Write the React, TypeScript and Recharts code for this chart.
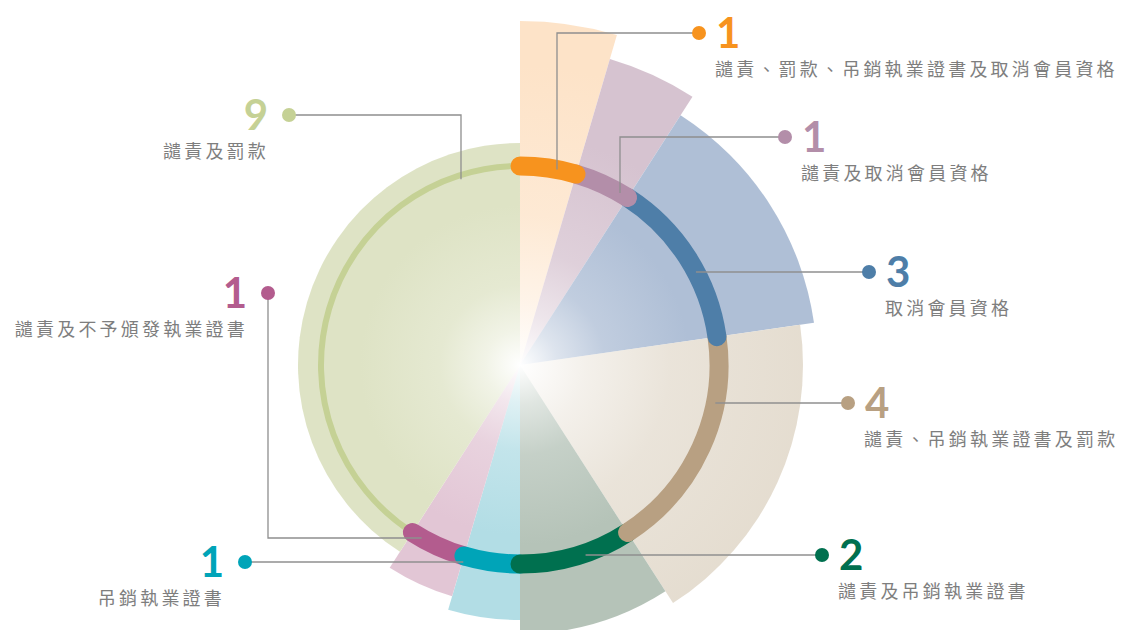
import React from 'react';
import { PieChart, Pie, Cell } from 'recharts';

// disciplinary outcomes, clockwise from 12 o'clock
const CATEGORIES = [
  '譴責、罰款、吊銷執業證書及取消會員資格',
  '譴責及取消會員資格',
  '取消會員資格',
  '譴責、吊銷執業證書及罰款',
  '譴責及吊銷執業證書',
  '吊銷執業證書',
  '譴責及不予頒發執業證書',
  '譴責及罰款',
];
const CASES = [1, 1, 3, 4, 2, 1, 1, 9];

// styling per category
const RING_COLORS = ['#F7931E', '#B38EA9', '#4E7EA8', '#B8A082', '#00704F', '#00A4B8', '#B35C8E', '#C5D195'];
const PETAL_COLORS = ['#FDE3C8', '#D6C3D0', '#AFBFD6', '#E4DCCF', '#B5C3B8', '#B2DDE5', '#E2C6D5', '#DEE3C5'];
const PETAL_REACH = [344, 319, 297, 283, 269, 255, 241, 222];
const PETAL_FADE = [300, 230, 170, 300, 180, 170, 170, 160];
const RING_WIDTH = [19, 19, 19, 19, 19, 19, 19, 6];

const CX = 520;
const CY = 365;
const RING_R = 199;

type Callout = { dot: [number, number]; route: 'h' | 'hv' | 'vh'; elbow?: number; hitR?: number };
const CALLOUTS: Callout[] = [
  { dot: [699, 33], route: 'hv', elbow: 557 },
  { dot: [785, 137], route: 'hv', elbow: 620 },
  { dot: [869, 272], route: 'h' },
  { dot: [848, 403], route: 'h' },
  { dot: [822, 555], route: 'h', hitR: 201 },
  { dot: [245, 562], route: 'h', hitR: 205 },
  { dot: [268, 293], route: 'vh', elbow: 538 },
  { dot: [289, 115], route: 'hv', elbow: 461, hitR: 195 },
];

const data = CATEGORIES.map((name, idx) => ({ name, value: CASES[idx], idx }));
// reversed + counter-clockwise: same layout, but the first slice paints last
const ringData = [...data].reverse();

const RAD = Math.PI / 180;
const polar = (cx: number, cy: number, r: number, a: number) => ({
  x: cx + r * Math.cos(-a * RAD),
  y: cy + r * Math.sin(-a * RAD),
});

const idxOf = (props: any) => (props.payload && props.payload.idx !== undefined ? props.payload.idx : props.idx);

const renderRingArc = (props: any) => {
  const { cx, cy, startAngle, endAngle } = props;
  const k = idxOf(props);
  const r = RING_R;
  const s = polar(cx, cy, r, startAngle);
  const e = polar(cx, cy, r, endAngle);
  const large = Math.abs(endAngle - startAngle) > 180 ? 1 : 0;
  const sweep = endAngle > startAngle ? 0 : 1;
  return (
    <path
      key={`arc-${k}`}
      d={`M${s.x},${s.y} A${r},${r} 0 ${large} ${sweep} ${e.x},${e.y}`}
      fill="none"
      stroke={RING_COLORS[k]}
      strokeWidth={RING_WIDTH[k]}
      strokeLinecap="round"
    />
  );
};

const renderCallout = (props: any) => {
  const { cx, cy } = props;
  const k = idxOf(props);
  const c = CALLOUTS[k];
  const r = c.hitR || RING_R;
  const [dx0, dy0] = c.dot;
  let pts: number[][] = [];
  if (c.route === 'h') {
    const off = Math.sqrt(Math.max(r * r - (dy0 - cy) ** 2, 0));
    pts = [[dx0, dy0], [dx0 > cx ? cx + off : cx - off, dy0]];
  } else if (c.route === 'hv') {
    const e = c.elbow as number;
    const off = Math.sqrt(Math.max(r * r - (e - cx) ** 2, 0));
    pts = [[dx0, dy0], [e, dy0], [e, dy0 < cy ? cy - off : cy + off]];
  } else {
    const e = c.elbow as number;
    const off = Math.sqrt(Math.max(r * r - (e - cy) ** 2, 0));
    pts = [[dx0, dy0], [dx0, e], [dx0 < cx ? cx - off : cx + off, e]];
  }
  const right = dx0 > cx;
  const color = RING_COLORS[k];
  return (
    <g key={`callout-${k}`}>
      <polyline points={pts.map((p) => p.join(',')).join(' ')} fill="none" stroke="#8f8f8f" strokeWidth={1.3} />
      <circle cx={dx0} cy={dy0} r={7} fill={color} />
      <text
        x={right ? dx0 + 17 : dx0 - 21}
        y={dy0 + 15}
        textAnchor={right ? 'start' : 'end'}
        fill={color}
        fontFamily="Lato, 'Open Sans', sans-serif"
        fontWeight={700}
        fontSize={42}
      >
        {CASES[k]}
      </text>
      <text
        x={right ? dx0 + 16 : dx0 - 20}
        y={dy0 + 35}
        textAnchor={right ? 'start' : 'end'}
        dominantBaseline="central"
        fill="#7e7e7e"
        fontFamily="'Noto Sans CJK TC', 'Noto Sans', sans-serif"
        fontWeight={400}
        fontSize={18}
        letterSpacing={3.2}
      >
        {CATEGORIES[k]}
      </text>
    </g>
  );
};

export default function App() {
  return (
    <div style={{ width: 1122, height: 630, background: '#fff' }}>
      <style>{'body{margin:0}'}</style>
      <PieChart width={1122} height={630} margin={{ top: 0, right: 0, bottom: 0, left: 0 }}>
        <defs>
          {PETAL_COLORS.map((col, k) => (
            <radialGradient key={k} id={`fade-${k}`} gradientUnits="userSpaceOnUse" cx={CX} cy={CY} r={PETAL_FADE[k]}>
              <stop offset="0" stopColor={col} stopOpacity={0} />
              <stop offset="0.06" stopColor={col} stopOpacity={0.12} />
              <stop offset="0.22" stopColor={col} stopOpacity={0.42} />
              <stop offset="0.5" stopColor={col} stopOpacity={0.78} />
              <stop offset="1" stopColor={col} stopOpacity={1} />
            </radialGradient>
          ))}
        </defs>
        {PETAL_REACH.map((reach, k) => (
          <Pie
            key={`petal-${k}`}
            data={data}
            dataKey="value"
            cx={CX}
            cy={CY}
            innerRadius={0}
            outerRadius={reach}
            startAngle={90}
            endAngle={-270}
            stroke="none"
            isAnimationActive={false}
          >
            {data.map((d) => (
              <Cell key={d.name} fill={d.idx === k ? `url(#fade-${k})` : 'transparent'} />
            ))}
          </Pie>
        ))}
        <Pie
          data={ringData}
          dataKey="value"
          cx={CX}
          cy={CY}
          innerRadius={RING_R - 1}
          outerRadius={RING_R + 1}
          startAngle={90}
          endAngle={450}
          fill="none"
          stroke="none"
          label={renderRingArc}
          labelLine={false}
          isAnimationActive={false}
        />
        <Pie
          data={data}
          dataKey="value"
          cx={CX}
          cy={CY}
          innerRadius={RING_R - 1}
          outerRadius={RING_R + 1}
          startAngle={90}
          endAngle={-270}
          fill="none"
          stroke="none"
          label={renderCallout}
          labelLine={false}
          isAnimationActive={false}
        />
      </PieChart>
    </div>
  );
}
